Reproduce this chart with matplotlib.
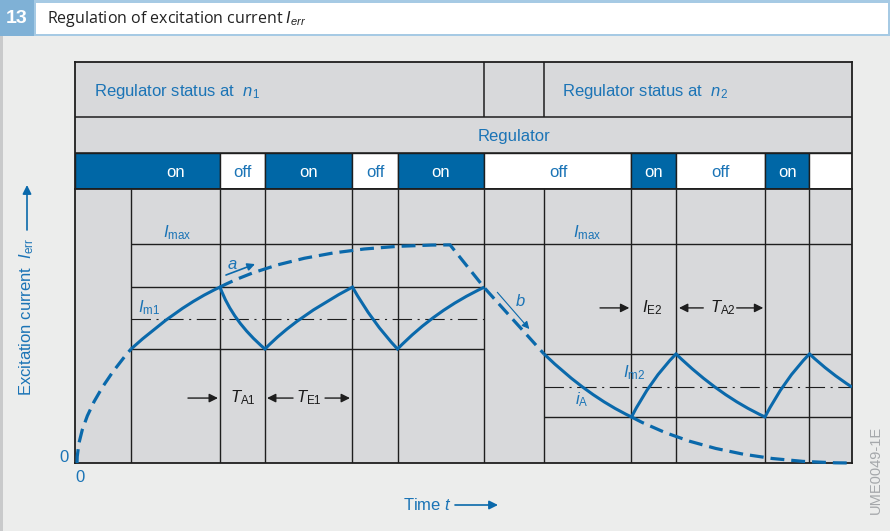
import matplotlib
matplotlib.use('Agg')
import matplotlib.pyplot as plt
from matplotlib.path import Path
from matplotlib.patches import PathPatch, Rectangle, FancyArrowPatch

plt.rcParams['font.family'] = ['Liberation Sans', 'DejaVu Sans']
plt.rcParams['mathtext.fontset'] = 'custom'
plt.rcParams['mathtext.rm'] = 'Liberation Sans'
plt.rcParams['mathtext.it'] = 'Liberation Sans:italic'
plt.rcParams['mathtext.bf'] = 'Liberation Sans:bold'
plt.rcParams['lines.scale_dashes'] = False

# ---------------- data ----------------
# time axis 0..100 (arbitrary units), current axis 0..100 (arbitrary units)
t_grid = [7.21, 18.66, 24.45, 35.71, 41.51, 52.70, 60.36, 71.62, 77.35, 88.80, 94.53]
t_end = 100.0
status_edges = [0, 18.66, 24.45, 35.71, 41.51, 52.70, 71.62, 77.35, 88.80, 94.53, 100]
status_labels = ['on', 'off', 'on', 'off', 'on', 'off', 'on', 'off', 'on', '']
status_on = [True, False, True, False, True, False, True, False, True, False]
I_max = 80.0
band_n1 = [41.6, 52.55, 64.2]   # lower, mean I_m1, upper
band_n2 = [16.8, 27.7, 39.8]    # lower, mean I_m2, upper

# solid current at n1: anchor, control, anchor, control, ... (quadratic curves)
sol1_t = [7.21, 13.30, 18.66, 20.27, 24.45, 28.40, 35.71, 38.26, 41.51, 46.37, 52.70]
sol1_I = [41.6, 57.2, 64.2, 51.7, 41.6, 53.25, 64.2, 51.35, 41.6, 55.8, 64.2]
# solid current at n2
sol2_t = [60.36, 65.98, 71.62, 74.12, 77.35, 82.97, 88.80, 91.30, 94.53, 97.17, 100.0]
sol2_I = [39.8, 24.4, 16.8, 30.6, 39.8, 24.4, 16.8, 30.6, 39.8, 32.8, 27.7]
# dashed (unregulated) current
dashA_t = [0.26, 0.26, 7.21]
dashA_I = [0.0, 18.8, 41.6]
dashB_t = [18.66, 29.22, 48.27, 52.70, 60.36]
dashB_I = [64.2, 79.6, 79.6, 63.9, 39.8]
dashC_t = [71.62, 82.6, 100.0]
dashC_I = [16.8, 0.0, 0.0]

# ---------------- style ----------------
W, H = 890, 531
BG = '#ecedec'
GREY = '#d8d9db'
BLUE_FILL = '#0067a6'
BLUE_TXT = '#1b74b6'
BLUE_CURVE = '#0a69ab'
LINE = '#1e1e1e'

fig = plt.figure(figsize=(W / 100, H / 100), dpi=100)
fig.patch.set_facecolor(BG)


def fr(x0, y0, x1, y1):
    return [x0 / W, 1 - y1 / H, (x1 - x0) / W, (y1 - y0) / H]


def frect(x0, y0, x1, y1, **kw):
    r = Rectangle((x0 / W, 1 - y1 / H), (x1 - x0) / W, (y1 - y0) / H,
                  transform=fig.transFigure, **kw)
    fig.add_artist(r)


# title bar
frect(0, 0, 890, 36, facecolor='#a6cae4', edgecolor='none')
frect(0, 0, 34, 36, facecolor='#7fb1d6', edgecolor='none')
frect(36, 3, 888, 34, facecolor='white', edgecolor='none')
frect(0, 36, 3, 531, facecolor='#c9cacb', edgecolor='none')
fig.text(17 / W, 1 - 18.5 / H, '13', color='white', fontsize=14, fontweight='bold',
         ha='center', va='center')
fig.text(47 / W, 1 - 19 / H, 'Regulation of excitation current $I_{err}$',
         color='#222222', fontsize=11.5, va='center', family=['Open Sans', 'DejaVu Sans'])

# ---------------- header table ----------------
hx = fig.add_axes(fr(75, 62, 852, 189))
hx.set_xlim(0, t_end)
hx.set_ylim(0, 127)
hx.set_xticks([]); hx.set_yticks([])
hx.set_facecolor(GREY)
for s in hx.spines.values():
    s.set_linewidth(1.3); s.set_color(LINE)
hx.hlines([36, 72], 0, t_end, colors=LINE, lw=1.1)
hx.vlines([t_grid[5], t_grid[6]], 72, 127, colors=LINE, lw=1.1)
for i, lab in enumerate(status_labels):
    x0, x1 = status_edges[i], status_edges[i + 1]
    hx.add_patch(Rectangle((x0, 0), x1 - x0, 36,
                           facecolor=BLUE_FILL if status_on[i] else 'white',
                           edgecolor=LINE, lw=1.0))
    xc = (x0 + x1) / 2 if i > 0 else (t_grid[0] + x1) / 2
    hx.text(xc, 16.5, lab, ha='center', va='center', fontsize=12,
            color='white' if status_on[i] else BLUE_TXT)
hx.text(2.45, 97.5, 'Regulator status at  $n_1$', va='center', fontsize=12, color=BLUE_TXT)
hx.text(62.68, 97.5, 'Regulator status at  $n_2$', va='center', fontsize=12, color=BLUE_TXT)
hx.text((t_grid[5] + t_grid[6]) / 2, 52, 'Regulator', ha='center', va='center',
        fontsize=12, color=BLUE_TXT)

# ---------------- diagram ----------------
ax = fig.add_axes(fr(75, 189, 852, 463))
ax.set_xlim(0, t_end)
ax.set_ylim(0, 100)
ax.set_xticks([]); ax.set_yticks([])
ax.set_facecolor(GREY)
for s in ax.spines.values():
    s.set_linewidth(1.3); s.set_color(LINE)

ax.vlines(t_grid, 0, 100, colors=LINE, lw=1.0, zorder=1)
ax.hlines(I_max, t_grid[0], t_end, colors=LINE, lw=1.0, zorder=1)
ax.hlines([band_n1[0], band_n1[2]], t_grid[0], t_grid[5], colors=LINE, lw=1.0, zorder=1)
ax.hlines([band_n2[0], band_n2[2]], t_grid[6], t_end, colors=LINE, lw=1.0, zorder=1)
dd = (0, (14, 4, 1.5, 4))
ax.hlines(band_n1[1], t_grid[0], t_grid[5], colors=LINE, lw=0.8, linestyles=[dd], zorder=1)
ax.hlines(band_n2[1], t_grid[6], t_end, colors=LINE, lw=0.8, linestyles=[dd], zorder=1)


def quad_path(ts, Is):
    verts = list(zip(ts, Is))
    codes = [Path.MOVETO] + [Path.CURVE3] * (len(verts) - 1)
    return Path(verts, codes)


for ts, Is in [(sol1_t, sol1_I), (sol2_t, sol2_I)]:
    ax.add_patch(PathPatch(quad_path(ts, Is), facecolor='none', edgecolor=BLUE_CURVE,
                           lw=2.2, joinstyle='miter', capstyle='butt', zorder=3))

dash_style = (0, (10, 5))
ax.add_patch(PathPatch(quad_path(dashA_t, dashA_I), facecolor='none', edgecolor=BLUE_CURVE,
                       lw=2.3, linestyle=dash_style, capstyle='butt', zorder=3, clip_on=False))
pB = Path(list(zip(dashB_t, dashB_I)),
          [Path.MOVETO, Path.CURVE3, Path.CURVE3, Path.LINETO, Path.LINETO])
ax.add_patch(PathPatch(pB, facecolor='none', edgecolor=BLUE_CURVE,
                       lw=2.3, linestyle=dash_style, capstyle='butt', zorder=3))
ax.add_patch(PathPatch(quad_path(dashC_t, dashC_I), facecolor='none', edgecolor=BLUE_CURVE,
                       lw=2.3, linestyle=dash_style, capstyle='butt', zorder=3, clip_on=False))

# labels inside the diagram
kw = dict(fontsize=12, color=BLUE_TXT, va='center', zorder=4)
ax.text(11.33, 83.9, r'$I_{\mathrm{max}}$', **kw)
ax.text(64.1, 83.9, r'$I_{\mathrm{max}}$', **kw)
ax.text(8.1, 56.6, r'$I_{\mathrm{m1}}$', **kw)
ax.text(70.5, 32.8, r'$I_{\mathrm{m2}}$', **kw)
ax.text(64.35, 23.0, r'$i_{\mathrm{A}}$', **kw)
ax.text(20.3, 72.6, '$a$', fontsize=12, color=BLUE_TXT, va='center', ha='center', zorder=4)
ax.text(57.27, 59.1, '$b$', fontsize=12, color=BLUE_TXT, va='center', ha='center', zorder=4)

ax.annotate('', xy=(23.17, 72.6), xytext=(19.43, 68.6),
            arrowprops=dict(arrowstyle='-|>', color=BLUE_CURVE, lw=1.2, mutation_scale=11,
                            shrinkA=0, shrinkB=0), zorder=4)
ax.annotate('', xy=(58.47, 48.9), xytext=(54.35, 62.3),
            arrowprops=dict(arrowstyle='-|>', color=BLUE_CURVE, lw=0.8, mutation_scale=11,
                            shrinkA=0, shrinkB=0), zorder=4)

akw = dict(arrowstyle='-|>', color=LINE, lw=1.0, mutation_scale=13, shrinkA=0, shrinkB=0)
for (a0, a1, yy) in [(14.54, 18.40, 23.7), (28.06, 24.71, 23.7), (32.18, 35.39, 23.7),
                     (67.57, 71.34, 56.6), (80.86, 77.73, 56.6), (85.16, 88.58, 56.6)]:
    ax.annotate('', xy=(a1, yy), xytext=(a0, yy), arrowprops=akw, zorder=4)
tk = dict(fontsize=12, color='#1a1a1a', ha='center', va='center', zorder=4)
ax.text(21.6, 23.7, r'$T_{\mathrm{A1}}$', **tk)
ax.text(30.1, 23.7, r'$T_{\mathrm{E1}}$', **tk)
ax.text(74.32, 56.6, r'$I_{\mathrm{E2}}$', **tk)
ax.text(83.33, 56.6, r'$T_{\mathrm{A2}}$', **tk)

# ---------------- axis annotations ----------------
fig.text(64 / W, 1 - 457 / H, '0', color=BLUE_TXT, fontsize=12, ha='center', va='center')
fig.text(80 / W, 1 - 478 / H, '0', color=BLUE_TXT, fontsize=12, ha='center', va='center')
fig.text(27 / W, 1 - 396 / H, r'Excitation current  $I_{\mathrm{err}}$', color=BLUE_TXT,
         fontsize=12, rotation=90, ha='center', va='bottom')
fig.add_artist(FancyArrowPatch((27 / W, 1 - 230 / H), (27 / W, 1 - 185 / H),
                               transform=fig.transFigure, arrowstyle='-|>',
                               mutation_scale=13, lw=1.2, color=BLUE_CURVE,
                               shrinkA=0, shrinkB=0))
fig.text(403 / W, 1 - 505 / H, 'Time $t$', color=BLUE_TXT, fontsize=12, va='center')
fig.add_artist(FancyArrowPatch((455 / W, 1 - 505 / H), (498 / W, 1 - 505 / H),
                               transform=fig.transFigure, arrowstyle='-|>',
                               mutation_scale=13, lw=1.2, color=BLUE_CURVE,
                               shrinkA=0, shrinkB=0))
fig.text(876 / W, 1 - 470 / H, 'UME0049-1E', color='#a5a8ab', fontsize=10.5,
         rotation=90, ha='center', va='center')

fig.savefig('out.png', dpi=100, facecolor=BG)
